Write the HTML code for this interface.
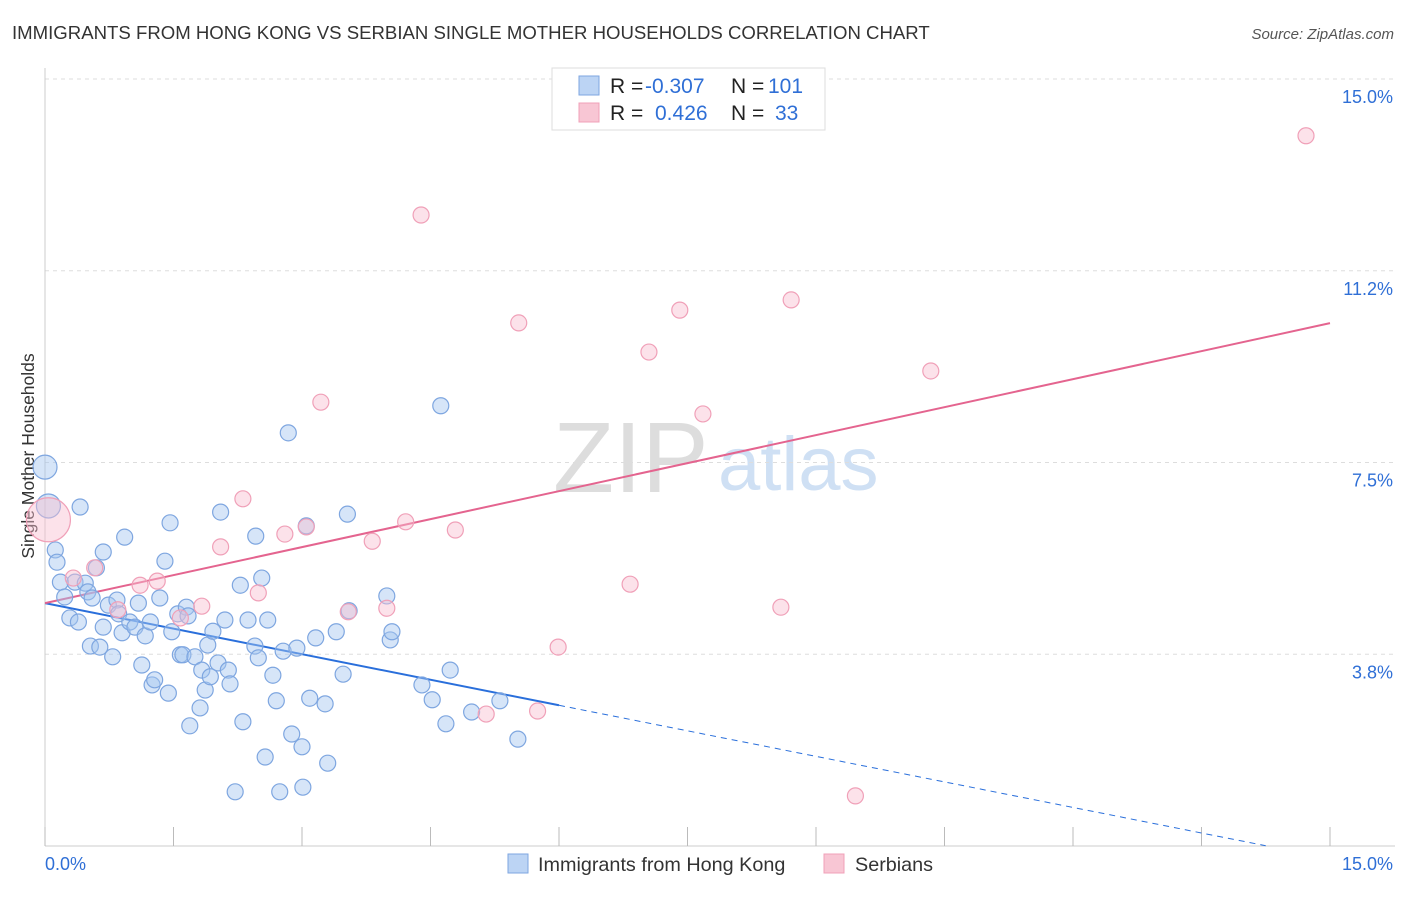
<!DOCTYPE html>
<html><head><meta charset="utf-8"><style>
body{margin:0;background:#fff;font-family:"Liberation Sans",sans-serif;}
svg text{font-family:"Liberation Sans",sans-serif;}
</style></head><body>
<svg id="chart" width="1406" height="892">
<text x="12" y="39" font-size="18.6" fill="#333">IMMIGRANTS FROM HONG KONG VS SERBIAN SINGLE MOTHER HOUSEHOLDS CORRELATION CHART</text>
<text x="1394" y="39" font-size="15" fill="#555" font-style="italic" text-anchor="end">Source: ZipAtlas.com</text>
<text x="34" y="456" font-size="17.5" fill="#333" text-anchor="middle" transform="rotate(-90 34 456)">Single Mother Households</text>
<g><text x="553" y="492" font-size="100" fill="#ddd" font-family="Liberation Serif">ZIP</text><text x="718" y="490" font-size="76" fill="#cfe0f4">atlas</text></g>
<g id="grid"></g><g id="lines"></g><g id="pts"></g>
<g>
<rect x="552" y="68" width="273" height="62" fill="#fff" stroke="#ddd"/>
<rect x="579" y="76" width="20" height="19" fill="#bcd4f4" stroke="#7ea6e0"/>
<rect x="579" y="103" width="20" height="19" fill="#f8c6d4" stroke="#f0a0b8"/>
<text x="610" y="93" font-size="21" fill="#222">R = <tspan x="645" fill="#2f6fd6">-0.307</tspan></text>
<text x="731" y="93" font-size="21" fill="#222">N = <tspan x="768" fill="#2f6fd6">101</tspan></text>
<text x="610" y="120" font-size="21" fill="#222">R = <tspan x="655" fill="#2f6fd6">0.426</tspan></text>
<text x="731" y="120" font-size="21" fill="#222">N = <tspan x="775" fill="#2f6fd6">33</tspan></text>
</g>
<g>
<rect x="508" y="854" width="20" height="19" fill="#bcd4f4" stroke="#7ea6e0"/>
<text x="538" y="871" font-size="19.8" fill="#333">Immigrants from Hong Kong</text>
<rect x="824" y="854" width="20" height="19" fill="#f8c6d4" stroke="#f0a0b8"/>
<text x="855" y="871" font-size="19.8" fill="#333">Serbians</text>
</g>
</svg>
<script>
const yTicks=[3.75,7.5,11.25,15];
const yTickLabels=["3.8%","7.5%","11.2%","15.0%"];
const xTickLabels=["0.0%","15.0%"];
const blueX=[0,0.04,0.12,0.14,0.41,0.18,0.23,0.29,0.35,0.39,0.47,0.50,0.55,0.68,0.60,0.53,0.64,0.68,0.74,0.79,0.84,0.86,0.90,0.93,0.99,1.05,1.09,1.13,1.17,1.23,1.25,1.28,1.34,1.40,1.44,1.46,1.48,1.55,1.58,1.61,1.65,1.67,1.69,1.75,1.81,1.83,1.87,1.90,1.93,1.96,2.02,2.05,2.10,2.14,2.16,2.22,2.28,2.31,2.37,2.45,2.46,2.49,2.53,2.57,2.60,2.66,2.70,2.74,2.78,2.84,2.88,2.94,3.00,3.01,3.05,3.09,3.16,3.27,3.30,3.40,3.48,3.53,3.55,3.99,4.03,4.05,4.40,4.52,4.62,4.68,4.73,4.98,5.31,5.52];
const blueY=[7.41,6.65,5.79,5.55,6.63,5.16,4.87,4.46,5.16,4.38,5.14,4.97,4.85,5.75,5.44,3.91,3.89,4.28,4.71,3.70,4.81,4.54,4.17,6.04,4.38,4.28,4.75,3.54,4.11,4.38,3.15,3.25,4.85,5.57,2.99,6.32,4.19,4.54,3.74,3.74,4.67,4.50,2.35,3.70,2.70,3.44,3.05,3.93,3.31,4.20,3.58,6.53,4.42,3.44,3.17,1.06,5.10,2.43,4.42,3.91,6.06,3.68,5.24,1.74,4.42,3.34,2.84,1.06,3.81,8.08,2.19,3.87,1.94,1.15,6.26,2.89,4.07,2.78,1.62,4.19,3.36,6.49,4.60,4.89,4.03,4.19,3.15,2.86,8.61,2.39,3.44,2.62,2.84,2.09];
const pinkX=[0.04,0.33,0.58,0.85,1.11,1.31,1.58,1.83,2.05,2.31,2.49,2.80,3.05,3.22,3.54,3.82,3.99,4.21,4.39,4.79,5.15,5.53,5.75,5.99,6.83,7.05,7.41,7.68,8.59,8.71,9.46,10.34,14.72];
const pinkY=[6.38,5.24,5.44,4.62,5.10,5.18,4.46,4.69,5.85,6.79,4.95,6.10,6.24,8.68,4.58,5.96,4.65,6.34,12.34,6.18,2.58,10.23,2.64,3.89,5.12,9.66,10.48,8.45,4.67,10.68,0.98,9.29,13.89];
const blueFit=[4.75,-0.333];
const pinkFit=[4.75,0.365];
const NS='http://www.w3.org/2000/svg';
const X0=45,X1=1330,Y0=846,Y15=79;
const sx=v=>X0+v/15*(X1-X0);
const sy=v=>Y0-v/15*(Y0-Y15);
function mk(p,t,a){const e=document.createElementNS(NS,t);for(const k in a)e.setAttribute(k,a[k]);p.appendChild(e);return e;}
const grid=document.getElementById('grid');
yTicks.forEach((t,i)=>{
 const l=mk(grid,'line',{x1:45,x2:1395,y1:sy(t),y2:sy(t),stroke:'#ddd','stroke-dasharray':'4,4'});
 
 
 const tx=mk(grid,'text',{x:1393,y:sy(t)+24,'font-size':18,fill:'#2f6fd6','text-anchor':'end'});
 tx.textContent=yTickLabels[i];
 
 
});
const ax=mk(grid,'line',{x1:45,x2:1395,y1:Y0,y2:Y0,stroke:'#ccc'});


const ay=mk(grid,'line',{x1:45,x2:45,y1:68,y2:Y0,stroke:'#ccc'});


for(let i=0;i<=10;i++){const t=mk(grid,'line',{x1:sx(i*1.5),x2:sx(i*1.5),y1:Y0-19,y2:Y0,stroke:'#bbb'});
 
 }
[[0,'start',45],[15,'end',1393]].forEach((d,i)=>{const t=mk(grid,'text',{x:d[2],y:870,'font-size':18,fill:'#2f6fd6','text-anchor':d[1]});t.textContent=xTickLabels[i];
 
 });
const lines=document.getElementById('lines');
const f=(c,x)=>c[0]+c[1]*x;
let bl=mk(lines,'line',{x1:sx(0),y1:sy(f(blueFit,0)),x2:sx(6),y2:sy(f(blueFit,6)),stroke:'#2a6fdb','stroke-width':2});


let bd=mk(lines,'line',{x1:sx(6),y1:sy(f(blueFit,6)),x2:sx(14.25),y2:sy(f(blueFit,14.25)),stroke:'#2a6fdb','stroke-width':1,'stroke-dasharray':'6,5'});


let pl=mk(lines,'line',{x1:sx(0),y1:sy(f(pinkFit,0)),x2:sx(15),y2:sy(f(pinkFit,15)),stroke:'#e4648f','stroke-width':2});


const pts=document.getElementById('pts');
blueX.forEach((x,i)=>{const r=i<2?12:8;const c=mk(pts,'circle',{cx:sx(x),cy:sy(blueY[i]),r:r,fill:'rgba(165,198,240,0.45)',stroke:'#7ea6e0','stroke-width':1.2});
 
 });
pinkX.forEach((x,i)=>{const r=i==0?22:8;const c=mk(pts,'circle',{cx:sx(x),cy:sy(pinkY[i]),r:r,fill:'rgba(248,190,208,0.45)',stroke:'#f0a0b8','stroke-width':1.2});
 
 });
</script>
</body></html>
